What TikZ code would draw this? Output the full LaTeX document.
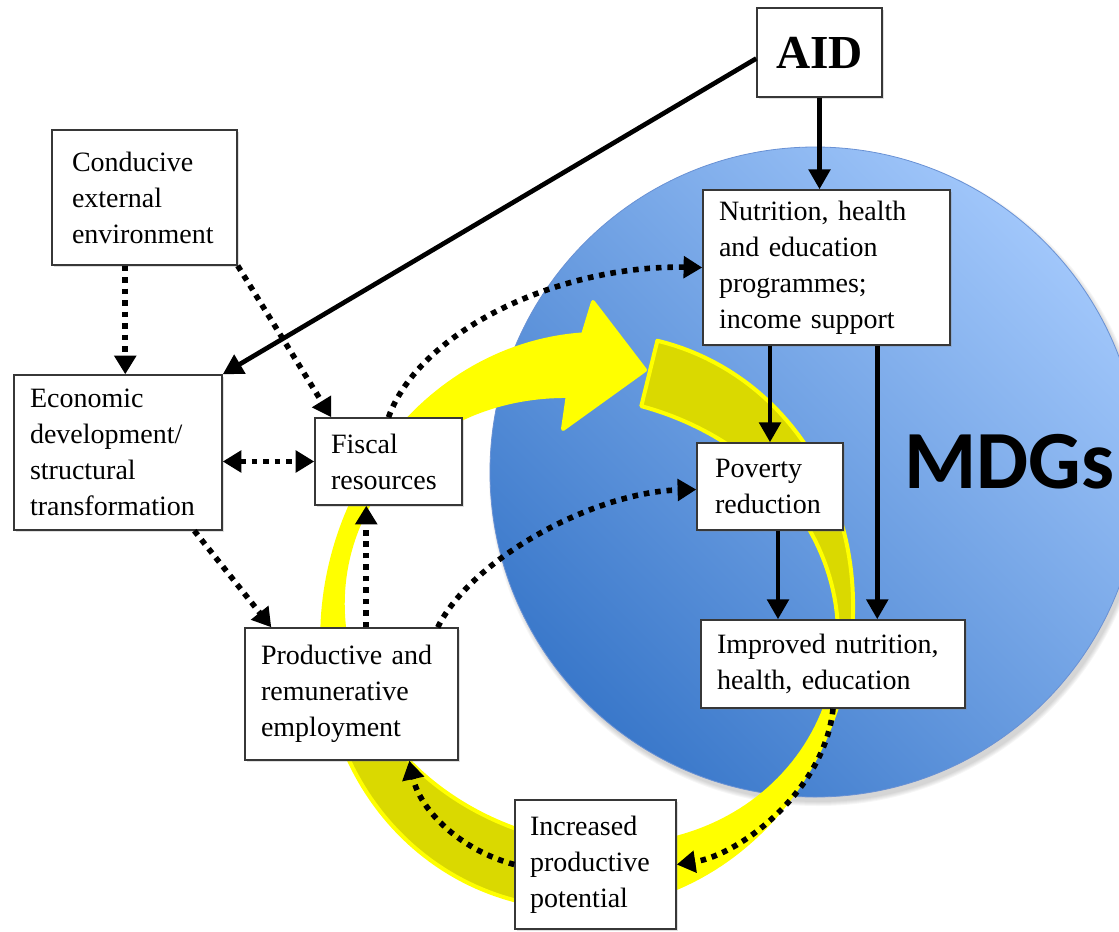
\documentclass[tikz,border=0pt]{standalone}
\usepackage{fontspec}
\setmainfont{Liberation Serif}
\newfontfamily\mdgfont{Carlito}
\usetikzlibrary{arrows.meta,calc,shadows}

\definecolor{ringbright}{RGB}{255,255,0}
\definecolor{ringdark}{RGB}{218,217,0}
\definecolor{globetop}{RGB}{160,198,250}
\definecolor{globebot}{RGB}{58,120,202}
\definecolor{globeedge}{RGB}{105,145,212}
\definecolor{boxline}{RGB}{55,55,55}

\newcommand\diagfont{\fontsize{21}{27}\selectfont}

\begin{document}
\begin{tikzpicture}[x=0.75pt,y=-0.75pt,
  declare function={
    rout(\a)=276-2*cos(\a)-6*sin(\a)-11*cos(2*\a)+6.5*sin(2*\a);
    rin(\a)=235.5-6*sin(\a)+11.5*cos(2*\a)-9.5*sin(2*\a);
  },
  box/.style={draw=boxline, fill=white, line width=1.1pt, align=left,
    inner xsep=12pt, inner ysep=0pt, font=\diagfont,
    drop shadow={shadow xshift=1.2pt, shadow yshift=-1.2pt, opacity=0.25}},
  solidarrow/.style={line width=3.5pt, -{Triangle[length=15pt,width=16pt]}},
  dotarrow/.style={line width=4.2pt, dash pattern=on 4.2pt off 4.4pt,
    -{Triangle[length=14pt,width=16pt]}},
  dotboth/.style={line width=4.2pt, dash pattern=on 4.2pt off 4.4pt,
    {Triangle[length=14pt,width=16pt]}-{Triangle[length=14pt,width=16pt]}},
  ringback/.style={fill=ringdark, draw=ringbright, line width=3pt, line join=round},
  ringfront/.style={fill=ringbright, draw=ringbright, line width=3pt, line join=round},
]
\useasboundingbox (0,0) rectangle (1119,931);
\clip (0,0) rectangle (1119,931);

% MDG globe with a soft shadow
\foreach \k in {1,...,5}
  \fill[black, opacity=0.035] (818,477) circle (324+\k);
\shade[shading=axis, top color=globetop, bottom color=globebot, shading angle=-45]
  (815,472) circle (325);
\draw[globeedge, line width=0.6pt] (815,472) circle (325);
\node[anchor=base west, font=\mdgfont\bfseries\fontsize{62}{62}\selectfont,
  inner sep=0pt] (mdg) at (904,488) {MDGs};

% circular yellow arrow, in four bands
\path[ringback]
  plot[domain=76.2:-10, samples=50, variable=\t] ({590+rout(\t)*cos(\t)}, {615-rout(\t)*sin(\t)})
  -- plot[domain=-10:76.2, samples=50, variable=\t] ({590+rin(\t)*cos(\t)}, {615-rin(\t)*sin(\t)})
  -- cycle;
\path[ringfront]
  plot[domain=-10:-90, samples=50, variable=\t] ({590+rout(\t)*cos(\t)}, {615-rout(\t)*sin(\t)})
  -- plot[domain=-90:-10, samples=50, variable=\t] ({590+rin(\t)*cos(\t)}, {615-rin(\t)*sin(\t)})
  -- cycle;
\path[ringback]
  plot[domain=-90:-160, samples=50, variable=\t] ({590+rout(\t)*cos(\t)}, {615-rout(\t)*sin(\t)})
  -- plot[domain=-160:-90, samples=50, variable=\t] ({590+rin(\t)*cos(\t)}, {615-rin(\t)*sin(\t)})
  -- cycle;
\path[ringfront]
  plot[domain=-160:-268.6, samples=70, variable=\t] ({590+rout(\t)*cos(\t)}, {615-rout(\t)*sin(\t)})
  -- (593,302) -- (645,370) -- (563,429)
  -- plot[domain=-264.2:-160, samples=70, variable=\t] ({590+rin(\t)*cos(\t)}, {615-rin(\t)*sin(\t)})
  -- cycle;

% boxes
\node[box, text width=93.75pt, minimum height=66.75pt, align=center, inner xsep=0pt,
  font=\bfseries\fontsize{35.5}{36}\selectfont] (aid) at (819.5,52.5) {AID};
\node[box, text width=108.75pt, inner xsep=15pt, minimum height=101.25pt] (cond) at (144.5,197.5)
  {Conducive\\external\\environment};
\node[box, text width=132pt, minimum height=116.25pt] (econ) at (118,452.5)
  {Economic\\development/\\structural\\transformation};
\node[box, text width=86.25pt, minimum height=65.25pt] (fis) at (388.5,461.5)
  {Fiscal\\resources};
\node[box, text width=135.75pt, minimum height=99pt] (emp) at (351.5,694)
  {Productive and\\remunerative\\employment};
\node[box, text width=161.25pt, minimum height=116.25pt] (nut) at (826.5,267.5)
  {Nutrition, health\\and education\\programmes;\\income support};
\node[box, text width=82.5pt, inner xsep=13.5pt, minimum height=65.25pt] (pov) at (770,486.5)
  {Poverty\\reduction};
\node[box, text width=174pt, minimum height=66pt] (imp) at (833,664)
  {Improved nutrition,\\health, education};
\node[box, text width=98.25pt, inner xsep=11.25pt, minimum height=96.75pt] (inc) at (595.5,864.5)
  {Increased\\productive\\potential};

% solid links
\draw[solidarrow] ($(aid.west)+(0,6)$) -- (econ.north east);
\draw[solidarrow] (aid.south) -- (aid.south |- nut.north);
\draw[solidarrow] (nut.south -| pov.north) -- (pov.north);
\coordinate (nr) at ($(nut.south west)+(175,0)$);
\draw[solidarrow] (nr) -- (nr |- imp.north);
\coordinate (pr) at ($(pov.south)+(8,0)$);
\draw[solidarrow] (pr) -- (pr |- imp.north);

% dotted links
\coordinate (c1) at ($(cond.south west)+(74,0)$);
\draw[dotarrow] (c1) -- (c1 |- econ.north);
\draw[dotarrow] (cond.south east) -- ($(fis.north west)+(17,0)$);
\draw[dotboth] (econ.east |- fis.west) -- (fis.west);
\draw[dotarrow] ($(econ.south west)+(181,0)$) -- ($(emp.north west)+(27,0)$);
\coordinate (e1) at ($(emp.north west)+(122,0)$);
\draw[dotarrow] (e1) -- (e1 |- fis.south);
\draw[dotarrow] (fis.north) .. controls (420,330) and (560,265) .. (nut.west);
\draw[dotarrow] ($(emp.north east)+(-21,0)$) .. controls (472,558) and (595,492) .. ($(pov.west)+(0,3)$);
\draw[dotarrow] (imp.south) .. controls (825,790) and (740,855) .. (inc.east);
\draw[dotarrow] (inc.west) .. controls (460,850) and (420,810) .. ($(emp.south west)+(165,0)$);
\end{tikzpicture}
\end{document}
